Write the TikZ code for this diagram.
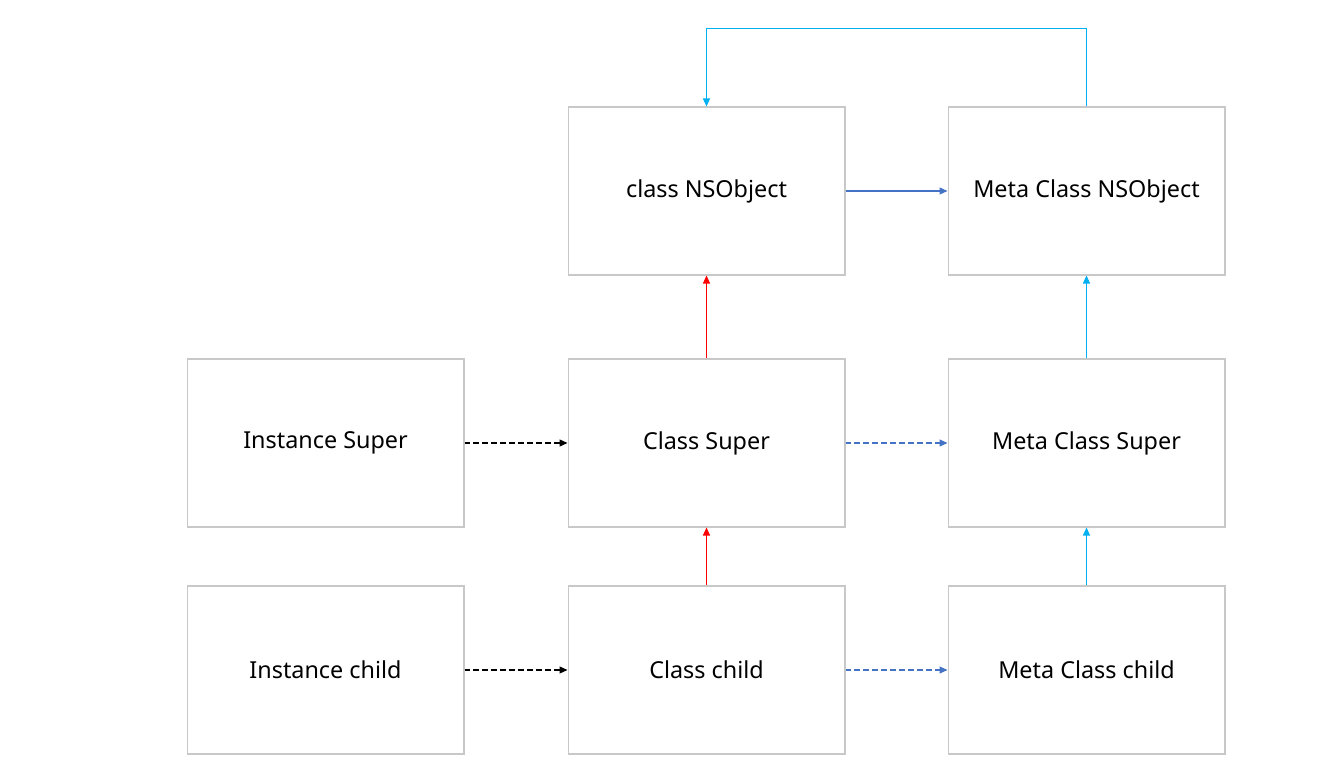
\documentclass[tikz,border=0pt]{standalone}
\usepackage{fontspec}
\setmainfont{Noto Sans}
\usetikzlibrary{arrows.meta}
\definecolor{boxgray}{RGB}{200,200,200}
\definecolor{metacyan}{RGB}{0,176,240}
\definecolor{isablue}{RGB}{68,114,196}

\begin{document}
\begin{tikzpicture}[
		x=0.02cm, y=-0.02cm,
		every node/.style={rectangle, draw=boxgray, line width=0.6pt, minimum width=5.54cm, minimum height=3.36cm, font=\fontsize{13.3}{15}\selectfont},
		link/.style={line width=0.6pt, -{Triangle[length=0.16cm, width=0.14cm]}},
		superlink/.style={link, red},
		metalink/.style={link, metacyan},
		isalink/.style={link, isablue, dash pattern=on 3.4pt off 1.7pt},
		instlink/.style={link, black, dash pattern=on 3.4pt off 1.7pt}
	]
  \useasboundingbox (0, 0) rectangle (1321, 776);
  \node (cls_root) at (706.5, 191) {class NSObject};
  \node (meta_root) at (1086.5, 191) {Meta Class NSObject};
  \node (inst_super) at (325.5, 443) {Instance Super};
  \node (cls_super) at (706.5, 443) {Class Super};
  \node (meta_super) at (1086.5, 443) {Meta Class Super};
  \node (inst_child) at (325.5, 670) {Instance child};
  \node (cls_child) at (706.5, 670) {Class child};
  \node (meta_child) at (1086.5, 670) {Meta Class child};
  \draw [link, isablue] (cls_root) -- (meta_root);
  \draw [metalink] (meta_root.north) -- ++(0, -78) -| (cls_root.north);
  \draw [superlink] (cls_super) -- (cls_root);
  \draw [superlink] (cls_child) -- (cls_super);
  \draw [metalink] (meta_super) -- (meta_root);
  \draw [metalink] (meta_child) -- (meta_super);
  \draw [instlink] (inst_super) -- (cls_super);
  \draw [instlink] (inst_child) -- (cls_child);
  \draw [isalink] (cls_super) -- (meta_super);
  \draw [isalink] (cls_child) -- (meta_child);
\end{tikzpicture}
\end{document}
